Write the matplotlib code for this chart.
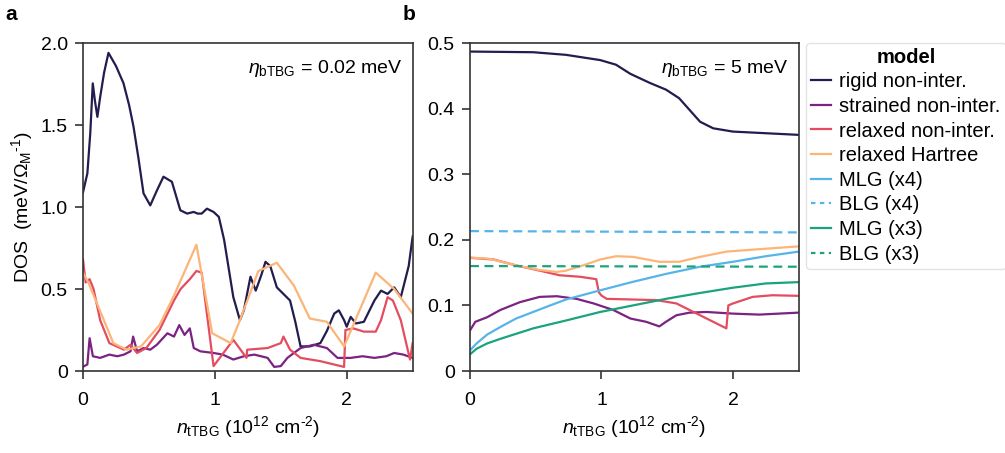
import numpy as np
import matplotlib.pyplot as plt
from matplotlib.lines import Line2D

plt.rcParams['font.family'] = ['Liberation Sans', 'DejaVu Sans']
plt.rcParams['mathtext.fontset'] = 'custom'
plt.rcParams['mathtext.rm'] = 'Liberation Sans'
plt.rcParams['mathtext.it'] = 'Liberation Sans:italic'
plt.rcParams['font.size'] = 14

# colours for each model
c_rigid = '#221c4f'
c_strain = '#7b2382'
c_relax = '#e34d5f'
c_hartree = '#fcb577'
c_blue = '#56b4e9'
c_green = '#1aa37d'

# ---- panel a: eta = 0.02 meV ----
a_rigid_n = [0, 0.033, 0.055, 0.074, 0.09, 0.109, 0.13, 0.16, 0.193, 0.25, 0.307, 0.35, 0.383, 0.42,
             0.459, 0.51, 0.56, 0.61, 0.674, 0.738, 0.79, 0.839, 0.87, 0.90, 0.94, 0.99, 1.03, 1.07,
             1.14, 1.19, 1.22, 1.27, 1.31, 1.35, 1.384, 1.42, 1.47, 1.52, 1.57, 1.61, 1.65, 1.72,
             1.80, 1.85, 1.905, 1.94, 1.98, 2.0, 2.03, 2.07, 2.13, 2.21, 2.26, 2.31, 2.36, 2.41,
             2.47, 2.5]
a_rigid = [1.09, 1.205, 1.45, 1.754, 1.65, 1.55, 1.67, 1.82, 1.94, 1.86, 1.755, 1.62, 1.49, 1.30,
           1.083, 1.01, 1.10, 1.185, 1.154, 0.98, 0.96, 0.97, 0.96, 0.96, 0.99, 0.97, 0.94, 0.80,
           0.45, 0.31, 0.37, 0.575, 0.49, 0.58, 0.666, 0.64, 0.51, 0.47, 0.43, 0.30, 0.15, 0.15,
           0.17, 0.245, 0.35, 0.37, 0.31, 0.27, 0.33, 0.29, 0.30, 0.43, 0.49, 0.47, 0.51, 0.45,
           0.64, 0.82]

a_strain_n = [0, 0.033, 0.05, 0.075, 0.13, 0.2, 0.26, 0.31, 0.36, 0.38, 0.41, 0.46, 0.51, 0.56, 0.64,
              0.69, 0.73, 0.77, 0.81, 0.84, 0.89, 0.99, 1.06, 1.14, 1.22, 1.30, 1.40, 1.45, 1.50,
              1.55, 1.65, 1.75, 1.85, 1.93, 2.03, 2.12, 2.21, 2.30, 2.36, 2.43, 2.5]
a_strain = [0.026, 0.04, 0.2, 0.09, 0.08, 0.10, 0.09, 0.10, 0.12, 0.21, 0.12, 0.14, 0.13, 0.16, 0.23,
            0.21, 0.28, 0.22, 0.26, 0.14, 0.12, 0.11, 0.10, 0.07, 0.09, 0.10, 0.08, 0.025, 0.03,
            0.08, 0.14, 0.16, 0.14, 0.08, 0.08, 0.09, 0.08, 0.09, 0.11, 0.10, 0.08]

a_relax_n = [0, 0.02, 0.05, 0.08, 0.13, 0.2, 0.31, 0.36, 0.41, 0.48, 0.58, 0.69, 0.74, 0.81, 0.86,
             0.9, 0.99, 1.14, 1.24, 1.245, 1.4, 1.5, 1.52, 1.57, 1.65, 1.80, 1.98, 1.99, 2.05,
             2.13, 2.22, 2.26, 2.31, 2.35, 2.41, 2.48, 2.5]
a_relax = [0.68, 0.54, 0.56, 0.50, 0.31, 0.17, 0.13, 0.16, 0.11, 0.14, 0.25, 0.43, 0.50, 0.56, 0.61,
           0.60, 0.03, 0.19, 0.08, 0.13, 0.14, 0.17, 0.21, 0.13, 0.08, 0.06, 0.025, 0.25, 0.26,
           0.24, 0.24, 0.31, 0.45, 0.43, 0.31, 0.07, 0.17]

a_hartree_n = [0, 0.04, 0.23, 0.33, 0.44, 0.58, 0.69, 0.86, 0.98, 1.12, 1.19, 1.33, 1.47, 1.6, 1.72,
               1.85, 1.98, 2.22, 2.36, 2.5]
a_hartree = [0.60, 0.54, 0.17, 0.13, 0.15, 0.28, 0.46, 0.77, 0.23, 0.17, 0.31, 0.61, 0.66, 0.52, 0.32,
             0.30, 0.15, 0.60, 0.50, 0.35]

# ---- panel b: eta = 5 meV ----
b_rigid_n = [0, 0.48, 0.73, 0.99, 1.11, 1.22, 1.37, 1.49, 1.59, 1.67, 1.75, 1.85, 2.0, 2.25, 2.5]
b_rigid = [0.487, 0.486, 0.482, 0.474, 0.467, 0.453, 0.439, 0.429, 0.416, 0.398, 0.38, 0.37, 0.365,
           0.3625, 0.36]

b_strain_n = [0, 0.04, 0.13, 0.23, 0.38, 0.53, 0.66, 0.81, 0.94, 1.09, 1.22, 1.34, 1.44, 1.49, 1.57,
              1.67, 1.80, 2.0, 2.2, 2.5]
b_strain = [0.062, 0.075, 0.082, 0.093, 0.105, 0.113, 0.114, 0.11, 0.103, 0.093, 0.08, 0.075, 0.068,
            0.075, 0.085, 0.089, 0.09, 0.0875, 0.086, 0.089]

b_relax_n = [0, 0.18, 0.35, 0.53, 0.68, 0.84, 0.96, 0.98, 1.0, 1.04, 1.24, 1.42, 1.57, 1.70, 1.85,
             1.95, 1.965, 2.0, 2.15, 2.30, 2.5]
b_relax = [0.1726, 0.17, 0.161, 0.153, 0.146, 0.1436, 0.14, 0.12, 0.115, 0.11, 0.109, 0.108, 0.103,
           0.09, 0.075, 0.065, 0.1, 0.103, 0.113, 0.1155, 0.1146]

b_hartree_n = [0, 0.15, 0.35, 0.53, 0.66, 0.73, 0.86, 0.99, 1.11, 1.24, 1.44, 1.59, 1.75, 1.95, 2.15, 2.5]
b_hartree = [0.173, 0.171, 0.161, 0.154, 0.151, 0.153, 0.161, 0.170, 0.175, 0.174, 0.1665, 0.1665,
             0.174, 0.182, 0.185, 0.19]

b_mlg4_n = [0, 0.05, 0.13, 0.23, 0.35, 0.48, 0.61, 0.73, 0.99, 1.24, 1.49, 1.75, 2.0, 2.25, 2.5]
b_mlg4 = [0.0316, 0.042, 0.0555, 0.067, 0.08, 0.09, 0.1, 0.109, 0.123, 0.136, 0.148, 0.159, 0.1665,
          0.175, 0.182]

b_mlg3_n = [0, 0.05, 0.13, 0.23, 0.48, 0.73, 0.99, 1.24, 1.49, 1.75, 2.0, 2.25, 2.5]
b_mlg3 = [0.0255, 0.034, 0.042, 0.049, 0.065, 0.077, 0.09, 0.1, 0.11, 0.119, 0.127, 0.1335, 0.1355]

b_blg_n = [0, 2.5]
b_blg4 = [0.2133, 0.2113]
b_blg3 = [0.160, 0.159]

lw = 1.6
fig = plt.figure(figsize=(10.05, 4.53), dpi=100)
ax1 = fig.add_axes([0.0826, 0.181, 0.328, 0.724])
ax2 = fig.add_axes([0.4677, 0.181, 0.327, 0.724])

ax1.plot(a_rigid_n, a_rigid, color=c_rigid, lw=lw)
ax1.plot(a_strain_n, a_strain, color=c_strain, lw=lw)
ax1.plot(a_relax_n, a_relax, color=c_relax, lw=lw)
ax1.plot(a_hartree_n, a_hartree, color=c_hartree, lw=lw)

ax2.plot(b_rigid_n, b_rigid, color=c_rigid, lw=lw)
ax2.plot(b_strain_n, b_strain, color=c_strain, lw=lw)
ax2.plot(b_relax_n, b_relax, color=c_relax, lw=lw)
ax2.plot(b_hartree_n, b_hartree, color=c_hartree, lw=lw)
ax2.plot(b_mlg4_n, b_mlg4, color=c_blue, lw=lw)
ax2.plot(b_blg_n, b_blg4, color=c_blue, lw=lw, ls=(0, (4, 2.5)))
ax2.plot(b_mlg3_n, b_mlg3, color=c_green, lw=lw)
ax2.plot(b_blg_n, b_blg3, color=c_green, lw=lw, ls=(0, (4, 2.5)))

ax1.set_ylim(0, 2.0)
ax1.set_yticks([0, 0.5, 1.0, 1.5, 2.0])
ax1.set_yticklabels(['0', '0.5', '1.0', '1.5', '2.0'])
ax2.set_ylim(0, 0.5)
ax2.set_yticks([0, 0.1, 0.2, 0.3, 0.4, 0.5])
ax2.set_yticklabels(['0', '0.1', '0.2', '0.3', '0.4', '0.5'])

xlab = r'$n_{\rm tTBG}$ (10$^{12}$ cm$^{\text{-}2}$)'
for ax in (ax1, ax2):
    ax.set_xlim(0, 2.5)
    ax.set_xticks([0, 1, 2])
    ax.set_xlabel(xlab, fontsize=14, labelpad=4)
    ax.tick_params(direction='out', length=6, width=1.2, color='#333333', labelsize=14, pad=5)
    ax.tick_params(axis='x', pad=9)
    for sp in ax.spines.values():
        sp.set_linewidth(1.2)
        sp.set_color('#333333')

ax1.set_ylabel(r'DOS  (meV/$\Omega_{\rm M}$$^{\text{-}1}$)', fontsize=14, labelpad=4)

ax1.text(0.97, 0.955, r'$\eta_{\rm bTBG}$ = 0.02 meV', transform=ax1.transAxes,
         ha='right', va='top', fontsize=14)
ax2.text(0.97, 0.955, r'$\eta_{\rm bTBG}$ = 5 meV', transform=ax2.transAxes,
         ha='right', va='top', fontsize=14)

fig.text(0.005, 0.967, 'a', fontsize=15, fontweight='bold', ha='left', va='center')
fig.text(0.401, 0.967, 'b', fontsize=15, fontweight='bold', ha='left', va='center')

labels = ['rigid non-inter.', 'strained non-inter.', 'relaxed non-inter.', 'relaxed Hartree',
          'MLG (x4)', 'BLG (x4)', 'MLG (x3)', 'BLG (x3)']
colors = [c_rigid, c_strain, c_relax, c_hartree, c_blue, c_blue, c_green, c_green]
styles = ['-', '-', '-', '-', '-', (0, (2, 2)), '-', (0, (2, 2))]
handles = [Line2D([], [], color=c, ls=s, lw=lw) for c, s in zip(colors, styles)]
leg = fig.legend(handles, labels, loc='upper left', bbox_to_anchor=(0.802, 0.906),
                 borderaxespad=0, title='model', fontsize=14.5,
                 title_fontproperties={'weight': 'bold', 'size': 14.5},
                 handlelength=1.0, handletextpad=0.4, labelspacing=0.28, borderpad=0.25,
                 frameon=True, fancybox=True, edgecolor='#dddddd')
leg.get_frame().set_linewidth(1.0)

fig.savefig('out.png', dpi=100)
